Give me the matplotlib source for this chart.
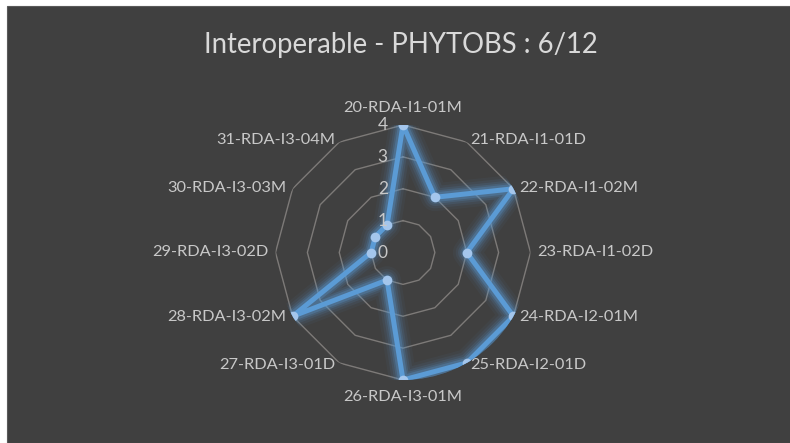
import numpy as np
import matplotlib.pyplot as plt
from matplotlib.patches import Rectangle

# Radar data (clockwise from the top)
categories = ["20-RDA-I1-01M", "21-RDA-I1-01D", "22-RDA-I1-02M", "23-RDA-I1-02D",
              "24-RDA-I2-01M", "25-RDA-I2-01D", "26-RDA-I3-01M", "27-RDA-I3-01D",
              "28-RDA-I3-02M", "29-RDA-I3-02D", "30-RDA-I3-03M", "31-RDA-I3-04M"]
scores = [4, 2, 4, 2, 4, 4, 4, 1, 4, 1, 1, 1]
r_ticks = [0, 1, 2, 3, 4]
title = "Interoperable - PHYTOBS : 6/12"

bg = "#404040"
txt = "#c8c8c8"
grid_col = "#7d7a78"
line_col = "#5b9bd5"

plt.rcParams['font.family'] = ['Lato', 'DejaVu Sans']

fig = plt.figure(figsize=(7.9, 4.43), dpi=100)
fig.patch.set_facecolor("white")
fig.patches.append(Rectangle((7 / 790, 0), 1, 1 - 6 / 443, transform=fig.transFigure,
                             facecolor=bg, edgecolor="#5a5a5a", lw=0.8, zorder=-5))

cx, cy, R = 403 / 790, (443 - 252.5) / 443, 127.5
w, h = R / 790, R / 443
ax = fig.add_axes([cx - w, cy - h, 2 * w, 2 * h], projection="polar")
ax.set_zorder(2)
ax.set_facecolor("none")
ax.set_theta_zero_location("N")
ax.set_theta_direction(-1)
ax.set_ylim(0, 4)
ax.grid(False)
ax.spines["polar"].set_visible(False)
ax.set_xticks([])
ax.set_yticks([])

n = len(categories)
theta = np.linspace(0, 2 * np.pi, n, endpoint=False)
theta_c = np.append(theta, theta[0])

# polygon gridlines
for r in r_ticks[1:]:
    ax.plot(theta_c, [r] * (n + 1), color=grid_col, lw=1.0, zorder=1)

# radial value labels
for r in r_ticks:
    ax.annotate(str(r), (0, r), xytext=(-11, 0), textcoords="offset points",
                ha="right", va="center", color=txt, fontsize=12.5, zorder=6)

# category labels
for t, lab in zip(theta, categories):
    deg = round(np.degrees(t)) % 360
    s, c = np.sin(t), np.cos(t)
    if deg in (0, 180):
        ha, va, dy = "center", ("bottom" if deg == 0 else "top"), 7 * c
    else:
        ha, va, dy = ("left" if deg < 180 else "right"), "center", 1.5 * c
    ax.annotate(lab, (t, 4), xytext=(5 * s, dy), textcoords="offset points",
                ha=ha, va=va, color=txt, fontsize=11.8, annotation_clip=False)

vals = scores + scores[:1]
# soft glow under the line
for lw, a in [(20, 0.05), (16, 0.08), (12.5, 0.12), (9.5, 0.18), (7, 0.28)]:
    ax.plot(theta_c, vals, color=line_col, lw=lw, alpha=a, solid_joinstyle="round",
            solid_capstyle="round", zorder=3)
ax.plot(theta_c, vals, color=line_col, lw=3.6, solid_joinstyle="miter", zorder=4)
ax.plot(theta, scores, "o", color="#a4c6ec", ms=7, mec="none", zorder=5)

fig.text(cx - 0.003, 1 - 45 / 443, title, ha="center", va="center", color="#d9d9d9", fontsize=19.8)

fig.savefig("out.png", dpi=100, facecolor=fig.get_facecolor())
